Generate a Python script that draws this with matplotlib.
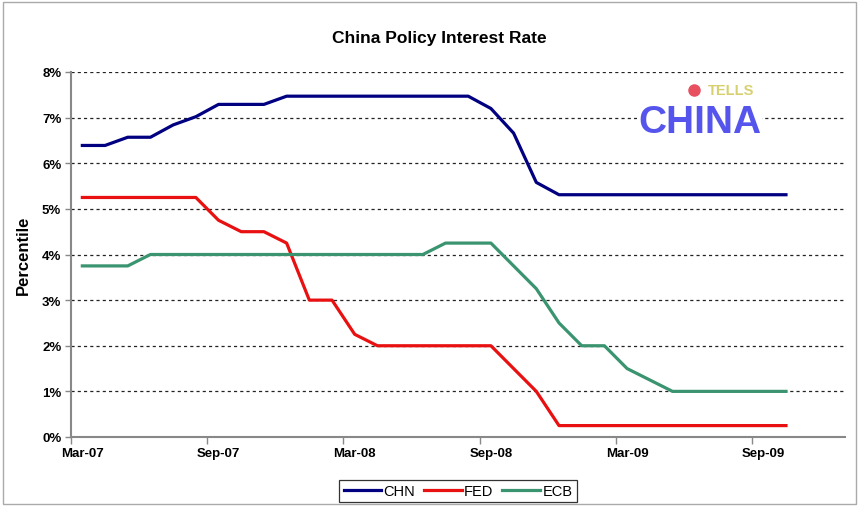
import matplotlib.pyplot as plt
from matplotlib.ticker import FixedLocator, NullFormatter, FuncFormatter

plt.rcParams['font.family'] = ['Liberation Sans', 'DejaVu Sans']

# monthly policy rates, Mar-07 .. Oct-09
months = ['Mar-07', 'Apr-07', 'May-07', 'Jun-07', 'Jul-07', 'Aug-07',
          'Sep-07', 'Oct-07', 'Nov-07', 'Dec-07', 'Jan-08', 'Feb-08',
          'Mar-08', 'Apr-08', 'May-08', 'Jun-08', 'Jul-08', 'Aug-08',
          'Sep-08', 'Oct-08', 'Nov-08', 'Dec-08', 'Jan-09', 'Feb-09',
          'Mar-09', 'Apr-09', 'May-09', 'Jun-09', 'Jul-09', 'Aug-09',
          'Sep-09', 'Oct-09']
chn = [6.39, 6.39, 6.57, 6.57, 6.84, 7.02, 7.29, 7.29, 7.29, 7.47,
       7.47, 7.47, 7.47, 7.47, 7.47, 7.47, 7.47, 7.47, 7.20, 6.66,
       5.58, 5.31, 5.31, 5.31, 5.31, 5.31, 5.31, 5.31, 5.31, 5.31,
       5.31, 5.31]
fed = [5.25, 5.25, 5.25, 5.25, 5.25, 5.25, 4.75, 4.50, 4.50, 4.25,
       3.00, 3.00, 2.25, 2.00, 2.00, 2.00, 2.00, 2.00, 2.00, 1.50,
       1.00, 0.25, 0.25, 0.25, 0.25, 0.25, 0.25, 0.25, 0.25, 0.25,
       0.25, 0.25]
ecb = [3.75, 3.75, 3.75, 4.00, 4.00, 4.00, 4.00, 4.00, 4.00, 4.00,
       4.00, 4.00, 4.00, 4.00, 4.00, 4.00, 4.25, 4.25, 4.25, 3.75,
       3.25, 2.50, 2.00, 2.00, 1.50, 1.25, 1.00, 1.00, 1.00, 1.00,
       1.00, 1.00]

x = list(range(len(months)))

fig = plt.figure(figsize=(8.59, 5.10), dpi=100)
ax = fig.add_axes([71 / 859, 1 - 438 / 510, (845 - 71) / 859, (438 - 73) / 510])

ax.plot(x, chn, color='#000080', lw=2.3, label='CHN', solid_joinstyle='round', zorder=4)
ax.plot(x, fed, color='#e81010', lw=2.3, label='FED', solid_joinstyle='round', zorder=4)
ax.plot(x, ecb, color='#3a9470', lw=2.3, label='ECB', solid_joinstyle='round', zorder=4)

ax.set_xlim(-0.5, 33.6)
ax.set_ylim(0, 8)

# tick marks between categories, labels every 6 months
ax.xaxis.set_major_locator(FixedLocator([-0.5 + 6 * k for k in range(6)]))
ax.xaxis.set_major_formatter(NullFormatter())
ax.xaxis.set_minor_locator(FixedLocator(x[::6]))
ax.set_xticklabels([months[i] for i in x[::6]], minor=True)
ax.tick_params(axis='x', which='major', length=5, width=1, color='#888888', direction='out')
ax.tick_params(axis='x', which='minor', length=0, pad=7)

ax.set_yticks(range(0, 9))
ax.yaxis.set_major_formatter(FuncFormatter(lambda v, p: '%d%%' % v))
ax.tick_params(axis='y', length=4, width=1, color='#888888', direction='out', pad=3)

for lab in ax.get_xticklabels(minor=True) + ax.get_yticklabels():
    lab.set_fontweight('bold')
    lab.set_fontsize(9.5)

for y in range(1, 9):
    ax.axhline(y, color='#222222', lw=0.9, ls=(0, (2.5, 2.5)), zorder=1)

for s in ['top', 'right']:
    ax.spines[s].set_visible(False)
for s in ['left', 'bottom']:
    ax.spines[s].set_color('#888888')
    ax.spines[s].set_linewidth(1.5)

ax.set_ylabel('Percentile', fontsize=12, fontweight='bold', labelpad=8)
fig.text(0.512, 1 - 38 / 510, 'China Policy Interest Rate', ha='center', va='center',
         fontsize=12.5, fontweight='bold')

# logo
ax.text(27.2, 6.9, 'CHINA', ha='center', va='center', fontsize=28, fontweight='bold',
        color='#5555ee', zorder=3,
        bbox=dict(facecolor='white', edgecolor='none', pad=0.5))
ax.text(28.6, 7.6, 'TELLS', ha='center', va='center', fontsize=10.5, fontweight='bold',
        color='#d8d070', zorder=3)
ax.plot([26.95], [7.6], 'o', ms=8, color='#e85060', zorder=3)

leg = fig.legend(loc='center', bbox_to_anchor=(458 / 859, 1 - 492 / 510), ncol=3,
                 frameon=True, fancybox=False, fontsize=10.5, handlelength=2.6,
                 handletextpad=0.15, columnspacing=0.6, borderpad=0.3)
leg.get_frame().set_edgecolor('black')
leg.get_frame().set_linewidth(0.9)

# chart border
fig.patches.append(plt.Rectangle((0.003, 0.01), 0.994, 0.985, transform=fig.transFigure,
                                 fill=False, edgecolor='#aaaaaa', lw=1))

fig.savefig('out.png', dpi=100)
